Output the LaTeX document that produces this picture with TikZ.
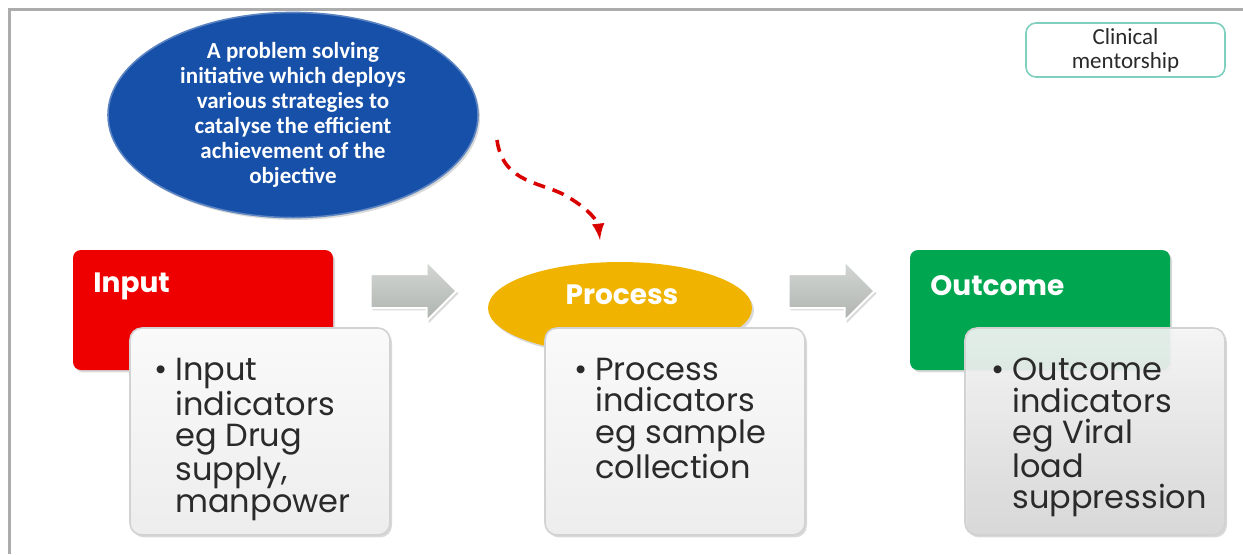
\documentclass[tikz,border=0pt]{standalone}
\usepackage{fontspec}
\setmainfont{Poppins}
\newfontfamily\calfont{Carlito}
\usetikzlibrary{shapes,arrows,shadows}

\definecolor{inred}{HTML}{EE0000}
\definecolor{procyellow}{HTML}{F0B400}
\definecolor{outgreen}{HTML}{00A650}
\definecolor{goalblue}{HTML}{1650A8}
\definecolor{mentorteal}{HTML}{7FCFBF}
\definecolor{arrowgray}{HTML}{C2C7C2}
\definecolor{inktext}{HTML}{2A2A2A}

\begin{document}
\begin{tikzpicture}[x=0.5pt,y=-0.5pt]
		\tikzstyle {soft shadow} = [drop shadow={opacity=0.3, shadow xshift=1pt, shadow yshift=-1.2pt}]
		\tikzstyle {head box} = [rounded corners=4pt, inner sep=0, minimum width=130pt, minimum height=60pt, soft shadow]
		\tikzstyle {body box} = [rounded corners=6pt, inner sep=0, minimum width=130pt, minimum height=103.5pt, draw=gray!35, line width=0.8pt, top color=gray!4, bottom color=gray!14, soft shadow]
		\tikzstyle {head text} = [inner sep=0, text=white, font=\bfseries\fontsize{14}{14}\selectfont]
		\tikzstyle {body text} = [inner sep=0, anchor=north west, align=left, text=inktext, font=\fontsize{16}{15.6}\selectfont]
		\tikzstyle {block arrow} = [single arrow, inner xsep=0, inner ysep=8pt, minimum height=43pt, minimum width=29pt, single arrow head extend=6.5pt, top color=arrowgray!70, bottom color=arrowgray!90!black, draw=white, line width=1pt, soft shadow]

		\useasboundingbox (0,0) rectangle (1243,554);
		\draw[gray!65, line width=1.5pt] (9,554) -- (9,9) -- (1243,9);

		% goal and mentorship
		\node[ellipse, inner sep=0, minimum width=185pt, minimum height=88pt, fill=goalblue, draw=goalblue!70!white, line width=0.8pt, soft shadow, text=white, align=center, font=\calfont\bfseries\fontsize{11.5}{12.5}\selectfont] (goal) at (293,115)
			{A problem solving\\initiative which deploys\\various strategies to\\catalyse the efficient\\achievement of the\\objective};
		\node[rounded corners=5pt, draw=mentorteal, line width=0.8pt, minimum width=99.5pt, minimum height=27pt, inner sep=0, align=center, text=inktext, font=\calfont\fontsize{11.5}{12}\selectfont] (mentor) at (1125.5,50)
			{Clinical\\mentorship};

		% heads
		\node[head box, fill=inred] (inHead) at (203,310) {};
		\node[ellipse, inner sep=0, minimum width=132pt, minimum height=46pt, fill=procyellow, soft shadow] (procHead) at (620,308) {};
		\node[head box, fill=outgreen] (outHead) at (1040,310) {};
		\node[head text, anchor=west] (inLbl) at (93,286) {Input};
		\node[head text] (procLbl) at (622,295) {Process};
		\node[head text, anchor=west] (outLbl) at (930,286) {Outcome};

		% bodies
		\node[body box] (inBody) at (260,431.5) {};
		\node[body box] (procBody) at (675,431.5) {};
		\node[body box, top color=gray!6, bottom color=gray!30, fill opacity=0.9] (outBody) at (1095,431.5) {};
		\node[body text] (inTxt) at (175,358) {\llap{\textbullet\hspace{4pt}}Input\\indicators\\eg Drug\\supply,\\manpower};
		\node[body text] (procTxt) at (595,358) {\llap{\textbullet\hspace{4pt}}Process\\indicators\\eg sample\\collection};
		\node[body text] (outTxt) at (1012,358) {\llap{\textbullet\hspace{4pt}}Outcome\\indicators\\eg Viral\\load\\suppression};

		% arrows
		\node[block arrow] (arrA) at (405,291) {};
		\node[block arrow] (arrB) at (823,291) {};

		\coordinate (dashS) at (497,140);
		\coordinate (dashE) at (600,240);
		\draw[-latex, red!85!black, line width=1.8pt, dash pattern=on 6pt off 4pt] (dashS) .. controls (503,185) and (545,182) .. (568,197) .. controls (590,210) and (598,222) .. (dashE);
	\end{tikzpicture}
\end{document}
